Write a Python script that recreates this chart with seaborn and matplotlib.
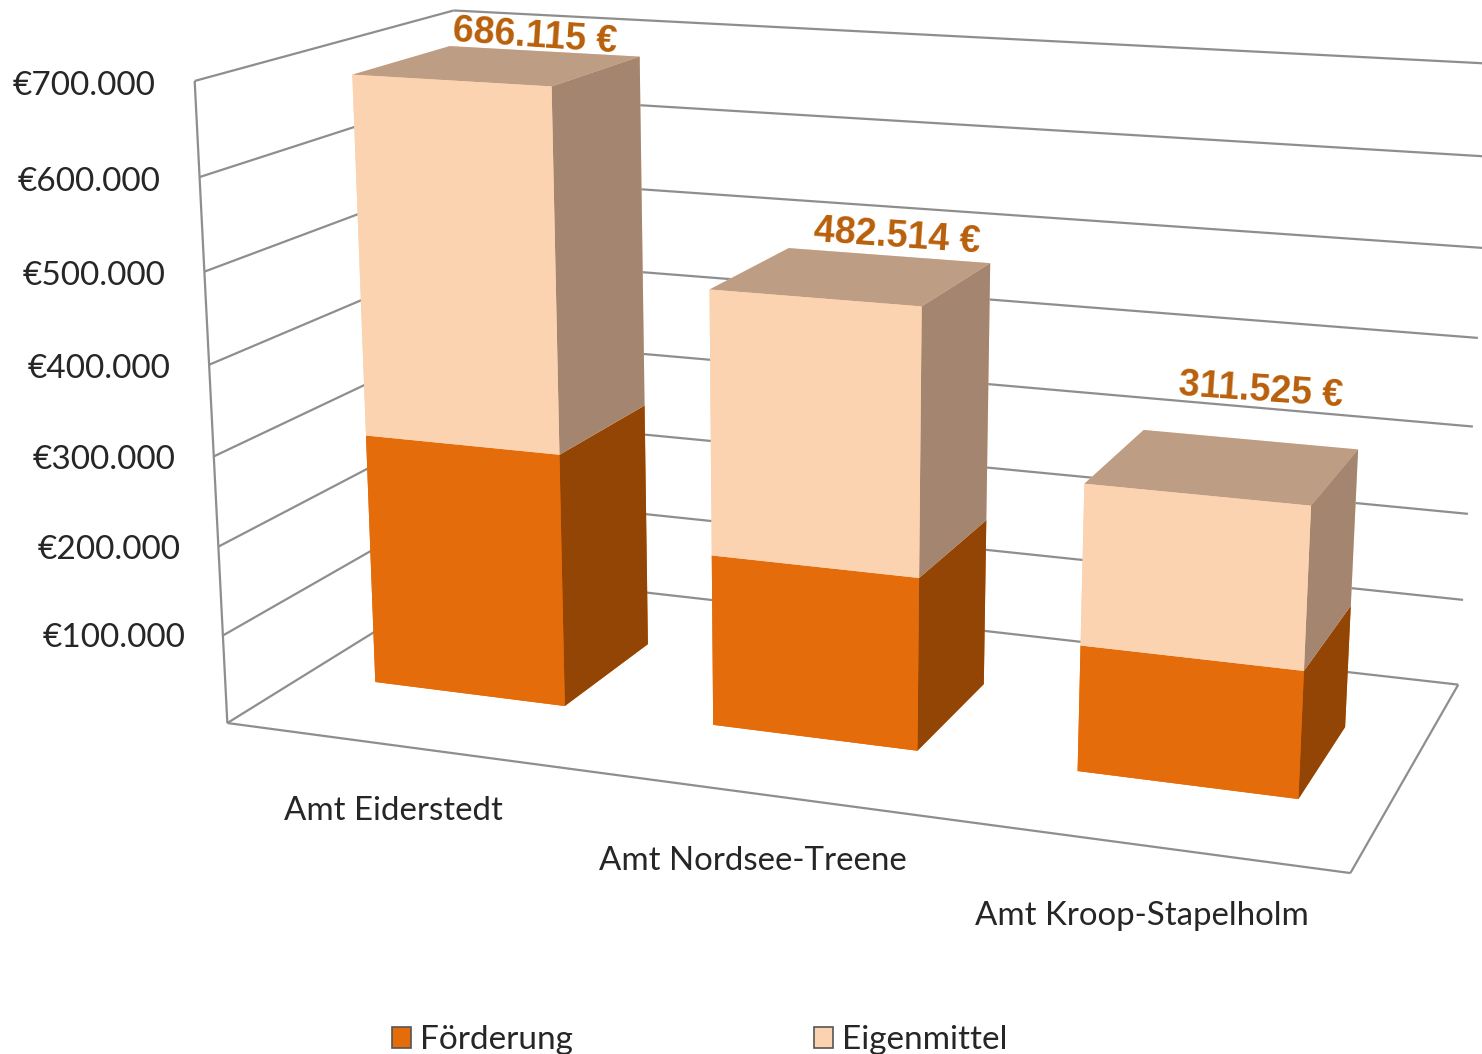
import matplotlib
matplotlib.use("Agg")
import matplotlib.pyplot as plt
from matplotlib.patches import Patch
from mpl_toolkits.mplot3d.art3d import Line3DCollection
import numpy as np
import seaborn as sns

categories = ["Amt Eiderstedt", "Amt Nordsee-Treene", "Amt Kroop-Stapelholm"]
foerderung = [287000, 192000, 138000]
eigenmittel = [399115, 290514, 173525]
totals = [686115, 482514, 311525]
total_labels = ["686.115 €", "482.514 €", "311.525 €"]
tick_values = [100000, 200000, 300000, 400000, 500000, 600000, 700000]
tick_labels = ["€100.000", "€200.000", "€300.000", "€400.000", "€500.000", "€600.000", "€700.000"]
series_names = ["Förderung", "Eigenmittel"]

Z_MAX = 700000
W_PX, H_PX = 1482, 1054

sns.set_theme(style="white", font="Lato")
palette = sns.color_palette(["#E46C0A", "#FCD3B1"])
side_colors = ["#924505", "#A38570"]
top_colors = ["#E46C0A", "#BD9D83"]
GRID = "#8E8E8E"
TEXT = "#262626"
LABEL = "#B85F0A"

# camera fitted on the corners of the chart box: (category, depth, euro) -> pixel
box = np.array([[0, 0, 0], [3, 0, 0], [3, 1, 0], [0, 1, 0], [0, 0, 7e5], [0, 1, 7e5], [3, 1, 7e5], [3, 1, 3e5]], float)
pix = np.array([[227, 723], [1351, 873], [1457, 685], [476, 573], [195, 81], [448, 10], [1495, 64], [1472, 426]], float)
weight = [4, 1, 1, 1, 4, 1, 1, 1]
A, b = [], []
for (x, y, z), (u, v), k in zip(box * [1, 1, 1e-5], pix, weight):
    A.append(np.multiply(k, [x, y, z, 1, 0, 0, 0, 0, -u * x, -u * y, -u * z]))
    A.append(np.multiply(k, [0, 0, 0, 0, x, y, z, 1, -v * x, -v * y, -v * z]))
    b += [k * u, k * v]
cam = np.append(np.linalg.lstsq(np.array(A), np.array(b), rcond=None)[0], 1).reshape(3, 4)
cam[:, 2] *= 1e-5
# depth row so that the polygons sort back to front
proj = np.vstack([cam[0], cam[1], [0, 0, 0, -1], cam[2]])


def label_at(x, y, z, s, dy=0, **kw):
    """Put a figure text where a point of the 3d box lands"""
    q = cam @ [x, y, z, 1]
    fig.text(q[0] / q[2] / W_PX, 1 - (q[1] / q[2] + dy) / H_PX, s, **kw)


fig = plt.figure(figsize=(W_PX / 100, H_PX / 100), dpi=100)
margin = (W_PX - H_PX) / 2
ax = fig.add_axes([0, -margin / H_PX, 1, W_PX / H_PX], projection="3d", computed_zorder=False)
ax.set_axis_off()
ax.get_proj = lambda: proj
ax.viewLim.intervalx = (0, W_PX)
ax.viewLim.intervaly = (H_PX + margin, -margin)

# floor, left edge and gridlines on both walls
segments = [[(0, 0, 0), (3, 0, 0)], [(3, 0, 0), (3, 1, 0)], [(3, 1, 0), (0, 1, 0)], [(0, 1, 0), (0, 0, 0)],
            [(0, 0, 0), (0, 0, Z_MAX)]]
for t in tick_values:
    segments += [[(0, 0, t), (0, 1, t)], [(0, 1, t), (3, 1, t)]]
ax.add_collection3d(Line3DCollection(segments, colors=GRID, linewidths=1.6, zorder=1))

# stacked bars
bar_w, bar_d = 0.57, 0.39
for i in range(3):
    x0, y0 = i + 0.21, 0.30
    bottom = 0
    for s, heights in enumerate([foerderung, eigenmittel]):
        face, top, side = palette[s], top_colors[s], side_colors[s]
        # faces: -z, +z, -y, +y, -x, +x
        ax.bar3d(x0, y0, bottom, bar_w, bar_d, heights[i], color=[face, top, face, face, face, side],
                 shade=False, edgecolor="none", linewidth=0, zorder=2 + i + s * 0.1)
        bottom += heights[i]

# value labels
label_x = [0.47, 1.52, 2.52]
label_dz = [16000, 22000, 55000]
for i in range(3):
    label_at(label_x[i], 0.69, totals[i] + label_dz[i], total_labels[i], color=LABEL, fontsize=27,
             family="Liberation Sans", fontweight="bold", rotation=-4, rotation_mode="anchor",
             ha="center", va="center")

# axis labels
for t, lab in zip(tick_values, tick_labels):
    label_at(-0.113, 0, t, lab, dy=7.5, color=TEXT, fontsize=24, ha="right", va="center")
cat_x = [0.702, 1.653, 2.605]
for c, name in zip(cat_x, categories):
    label_at(c, -0.28, 0, name, dy=2.5, color=TEXT, fontsize=23.8, ha="center", va="center")

handles = [Patch(facecolor=palette[k], edgecolor="#555555", linewidth=1.2) for k in range(2)]
fig.legend(handles, series_names, ncol=2, loc="center left", bbox_to_anchor=(392 / W_PX, 14 / H_PX),
           frameon=False, fontsize=24, labelcolor=TEXT, handlelength=0.58, handleheight=0.58,
           handletextpad=0.27, columnspacing=7.22, borderpad=0, borderaxespad=0)

fig.savefig("out.png", dpi=100)
plt.close(fig)
